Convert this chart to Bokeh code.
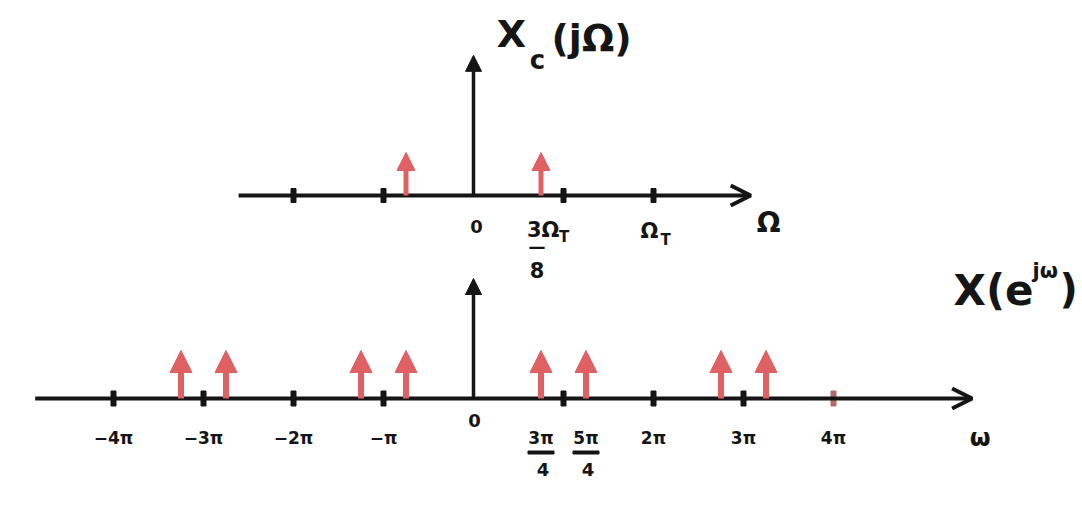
from bokeh.plotting import figure
from bokeh.models import Range1d, Arrow, NormalHead, OpenHead, ColumnDataSource
from bokeh.core.properties import value
from bokeh.embed import file_html
from bokeh.resources import INLINE

# ---------------------------------------------------------------------------
# Data. Frequencies are given on the discrete-time scale, in units of pi
# (omega = Omega*T, so Omega_T maps to 2*pi).
# ---------------------------------------------------------------------------

# Continuous-time spectrum X_c(jOmega): impulses at +-3*Omega_T/8
ct_impulse_w = [-0.75, 0.75]
ct_impulse_amp = [1.0, 1.0]
ct_ticks = [-2, -1, 1, 2]                 # -Omega_T, -Omega_T/2, Omega_T/2, Omega_T

# Discrete-time spectrum X(e^{jw}): the two impulses repeated every 2*pi
dt_impulse_w = [-13 / 4, -11 / 4, -5 / 4, -3 / 4, 3 / 4, 5 / 4, 11 / 4, 13 / 4]
dt_impulse_amp = [1.0, 1.0, 1.0, 1.0, 1.0, 1.0, 1.0, 1.0]
dt_ticks = [-4, -3, -2, -1, 1, 2, 3, 4]
dt_int_ticks = [-4, -3, -2, -1, 2, 3, 4]
dt_int_labels = ["−4π", "−3π", "−2π", "−π", "2π", "3π", "4π"]
dt_frac_ticks = [0.75, 1.25]
dt_frac_num = ["3π", "5π"]
dt_frac_den = ["4", "4"]

# ---------------------------------------------------------------------------
# Layout and style
# ---------------------------------------------------------------------------
W, H = 1082, 509
ORIGIN_PX = 473          # horizontal position of omega = 0
PX_PER_PI = 90
INK = "#151515"
RED = "#df6163"
FONT = "DejaVu Sans"

CT_BASE_PX, CT_PX_UNIT = 195, 43     # baseline row and impulse scale, upper panel
DT_BASE_PX, DT_PX_UNIT = 398, 48     # baseline row and impulse scale, lower panel
CT_AXIS = (-2.61, 3.08)
DT_AXIS = (-4.87, 5.54)
CT_VAXIS = 3.26
DT_VAXIS = 2.5


def panel_range(base_px, px_unit):
    return Range1d(start=-(H - base_px) / px_unit, end=base_px / px_unit)


p = figure(width=W, height=H,
           x_range=Range1d(-ORIGIN_PX / PX_PER_PI, (W - ORIGIN_PX) / PX_PER_PI),
           y_range=panel_range(DT_BASE_PX, DT_PX_UNIT),
           output_backend="svg", toolbar_location=None,
           x_axis_location=None, y_axis_location=None,
           min_border=0, outline_line_color=None,
           background_fill_color="white", border_fill_color="white")
p.extra_y_ranges = {"ct": panel_range(CT_BASE_PX, CT_PX_UNIT)}
p.xgrid.visible = False
p.ygrid.visible = False


def text(xs, texts, dx, dy, size, rng="default", align="center", weight="bold"):
    p.text(x=xs, y=[0] * len(xs), text=texts, x_offset=dx, y_offset=dy,
           text_font=value(FONT), text_font_size=f"{size}px",
           text_font_style=weight, text_align=align, text_baseline="middle",
           text_color=INK, y_range_name=rng)


# ---------------- axes ----------------
for rng, (x0, x1), vlen in (("ct", CT_AXIS, CT_VAXIS), ("default", DT_AXIS, DT_VAXIS)):
    p.add_layout(Arrow(x_start=x0, y_start=0, x_end=x1, y_end=0,
                       line_width=4, line_color=INK,
                       end=OpenHead(size=20, line_width=4, line_color=INK),
                       y_range_name=rng))
    p.add_layout(Arrow(x_start=0, y_start=0, x_end=0, y_end=vlen,
                       line_width=3.5, line_color=INK,
                       end=NormalHead(size=16, fill_color=INK, line_color=INK),
                       y_range_name=rng))

# tick marks
p.rect(x=ct_ticks, y=0, width=5, height=14, width_units="screen",
       height_units="screen", color=INK, y_range_name="ct")
dt_tick_colors = [INK] * (len(dt_ticks) - 1) + ["#b36a6a"]
p.rect(x=dt_ticks, y=0, width=5, height=15, width_units="screen",
       height_units="screen", color=dt_tick_colors)

# ---------------- impulses ----------------
ct_src = ColumnDataSource(dict(w=ct_impulse_w, amp=ct_impulse_amp))
p.add_layout(Arrow(x_start="w", y_start=0, x_end="w", y_end="amp", source=ct_src,
                   line_width=5, line_color=RED,
                   end=NormalHead(size=18, fill_color=RED, line_color=RED),
                   y_range_name="ct"))
dt_src = ColumnDataSource(dict(w=dt_impulse_w, amp=dt_impulse_amp))
p.add_layout(Arrow(x_start="w", y_start=0, x_end="w", y_end="amp", source=dt_src,
                   line_width=6, line_color=RED,
                   end=NormalHead(size=22, fill_color=RED, line_color=RED)))

# ---------------- upper panel labels ----------------
text([0], ["X"], 38, -162, 38, "ct")
text([0], ["c"], 64, -136, 26, "ct")
text([0], ["(jΩ)"], 78, -158, 38, "ct", align="left")
text([0], ["0"], 3, 31, 18, "ct")
text([ct_impulse_w[1]], ["3Ω"], -14, 34, 21, "ct", align="left")
text([ct_impulse_w[1]], ["T"], 18, 41, 15, "ct", align="left")
text([ct_impulse_w[1]], ["—"], -4, 51, 17, "ct")
text([ct_impulse_w[1]], ["8"], -4, 74, 21, "ct")
text([ct_ticks[-1]], ["Ω"], -13, 35, 21, "ct", align="left")
text([ct_ticks[-1]], ["T"], 7, 44, 15, "ct", align="left")
text([CT_AXIS[1]], ["Ω"], 18, 27, 28, "ct")

# ---------------- lower panel labels ----------------
text(dt_int_ticks, dt_int_labels, 0, 39, 17)
text([0], ["0"], 1, 22, 18)
text(dt_frac_ticks, dt_frac_num, 0, 39, 17)
p.rect(x=dt_frac_ticks, y=-(452 - DT_BASE_PX) / DT_PX_UNIT, width=26, height=3,
       width_units="screen", height_units="screen", color=INK)
text(dt_frac_ticks, dt_frac_den, 2, 71, 18)
text([DT_AXIS[1]], ["ω"], 8, 39, 24)
text([0], ["X(e"], 480, -108, 42, align="left")
text([0], ["jω"], 559, -128, 21, align="left")
text([0], [")"], 586, -110, 40, align="left")

open("out.html", "w").write(file_html(p, INLINE))
